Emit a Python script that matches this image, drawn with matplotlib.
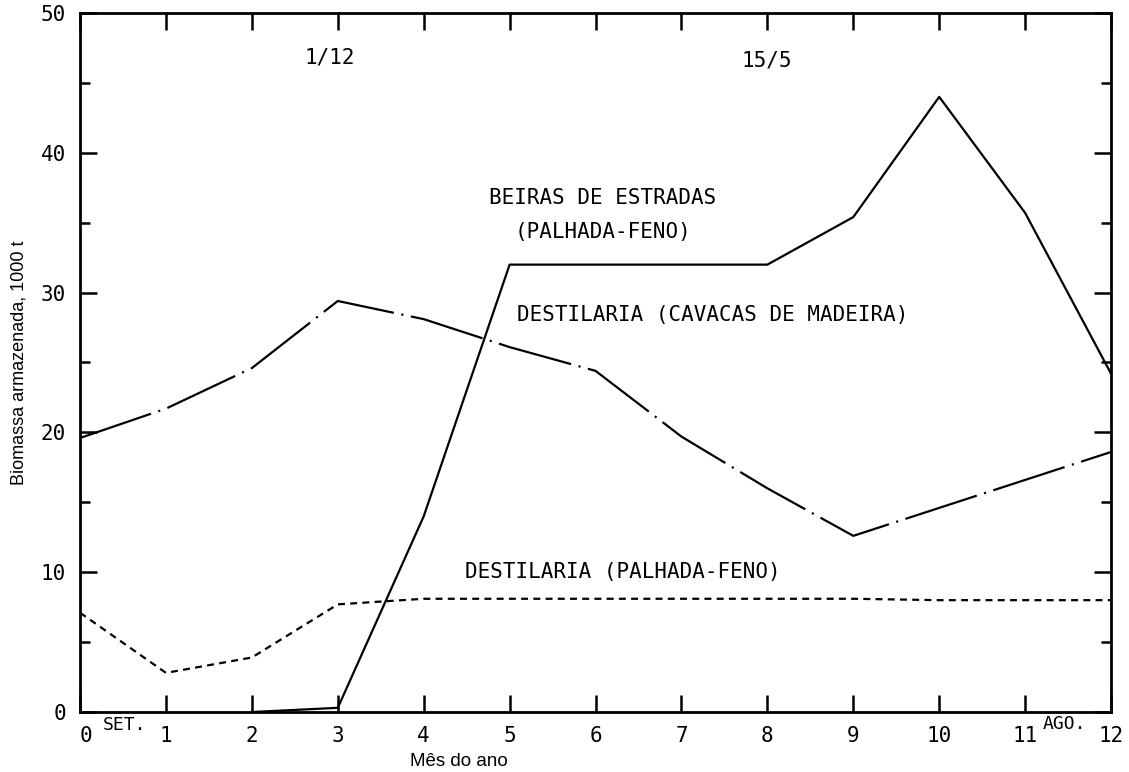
import numpy as np
import matplotlib
matplotlib.use('Agg')
import matplotlib.pyplot as plt
from matplotlib.ticker import MultipleLocator

plt.rcParams['lines.scale_dashes'] = False

# months after 1 September
months = list(range(0, 13))
beiras_months = list(range(2, 13))
beiras = [0.0, 0.3, 14.0, 32.0, 32.0, 32.0, 32.0, 35.4, 44.0, 35.7, 24.2]
cavacas = [19.6, 21.7, 24.6, 29.4, 28.1, 26.1, 24.4, 19.7, 16.0, 12.6, 14.6, 16.6, 18.6]
palhada = [7.1, 2.8, 3.9, 7.7, 8.1, 8.1, 8.1, 8.1, 8.1, 8.1, 8.0, 8.0, 8.0]

x_labels = [str(m) for m in months]
y_major = [0, 10, 20, 30, 40, 50]

mono = 'DejaVu Sans Mono'

fig = plt.figure(figsize=(11.29, 7.72), dpi=100)
ax = fig.add_axes([0.0709, 0.0777, 0.9132, 0.9055])

ax.plot(beiras_months, beiras, color='black', linewidth=1.6, linestyle='-')
ax.plot(months, cavacas, color='black', linewidth=1.6,
        linestyle=(0, (54, 5.5, 1.5, 5.5)))
ax.plot(months, palhada, color='black', linewidth=1.6,
        linestyle=(0, (5, 3.8)))

ax.set_xlim(0, 12)
ax.set_ylim(0, 50)

for side in ['left', 'right', 'top', 'bottom']:
    ax.spines[side].set_linewidth(2.0)

ax.set_xticks(months)
ax.set_xticklabels(x_labels, fontfamily=mono, fontsize=15)
ax.set_yticks(y_major)
ax.set_yticklabels([str(v) for v in y_major], fontfamily=mono, fontsize=15)
ax.yaxis.set_minor_locator(MultipleLocator(5))

ax.tick_params(axis='x', which='major', direction='in', length=12, width=1.8,
               top=True, bottom=True, pad=10)
ax.tick_params(axis='y', which='major', direction='in', length=12, width=1.8,
               left=True, right=True, pad=10)
ax.tick_params(axis='y', which='minor', direction='in', length=7, width=1.8,
               left=True, right=True)

ax.get_xticklabels()[0].set_horizontalalignment('left')

ax.set_ylabel('Biomassa armazenada, 1000 t', fontfamily='Liberation Sans',
              fontsize=13, labelpad=10)
ax.set_xlabel('Mês do ano', fontfamily='Liberation Sans', fontsize=13.5,
              x=0.367, labelpad=5)

ax.text(0.27, -0.9, 'SET.', fontfamily=mono, fontsize=13, ha='left', va='center',
        clip_on=False)
ax.text(11.2, -0.85, 'AGO.', fontfamily=mono, fontsize=13, ha='left', va='center',
        clip_on=False)

ax.text(2.91, 46.8, '1/12', fontfamily=mono, fontsize=15, ha='center', va='center')
ax.text(7.99, 46.6, '15/5', fontfamily=mono, fontsize=15, ha='center', va='center')
ax.text(6.08, 36.8, 'BEIRAS DE ESTRADAS', fontfamily=mono, fontsize=15,
        ha='center', va='center')
ax.text(6.09, 34.3, '(PALHADA-FENO)', fontfamily=mono, fontsize=15,
        ha='center', va='center')
ax.text(5.09, 28.4, 'DESTILARIA (CAVACAS DE MADEIRA)', fontfamily=mono,
        fontsize=15, ha='left', va='center')
ax.text(4.48, 10.0, 'DESTILARIA (PALHADA-FENO)', fontfamily=mono, fontsize=15,
        ha='left', va='center')

fig.savefig('out.png', dpi=100)
